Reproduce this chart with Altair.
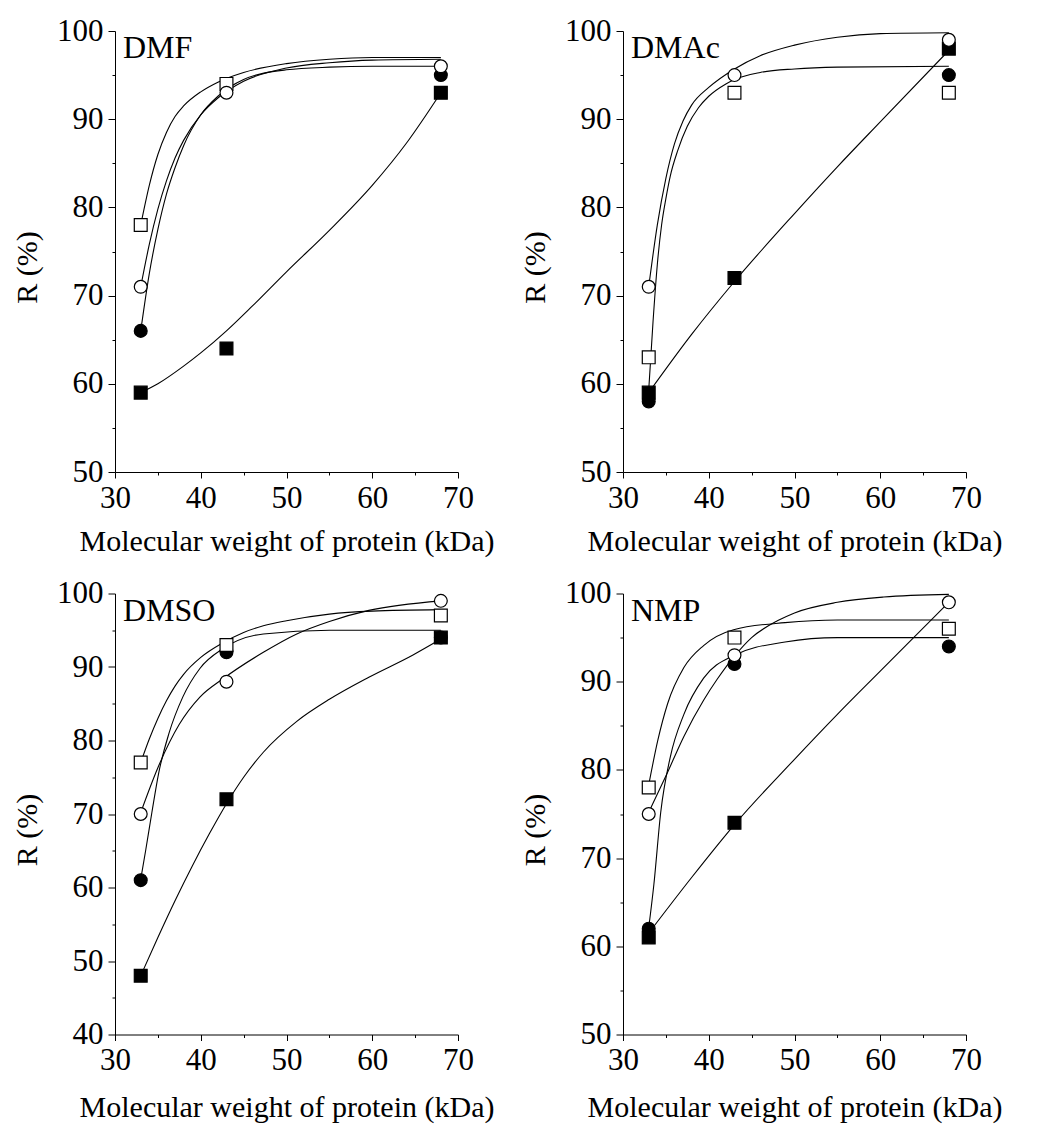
import altair as alt
import pandas as pd

FONT = "Liberation Serif"

# ---- measured points (x = molecular weight of protein, kDa) ----
x_pts = [33, 43, 68]
series_names = ["filled square", "filled circle", "open square", "open circle"]

dmf_fsq = [59, 64, 93]
dmf_fci = [66, None, 95]
dmf_osq = [78, 94, None]
dmf_oci = [71, 93, 96]

dmac_fsq = [59, 72, 98]
dmac_fci = [58, None, 95]
dmac_osq = [63, 93, 93]
dmac_oci = [71, 95, 99]

dmso_fsq = [48, 72, 94]
dmso_fci = [61, 92, 94]
dmso_osq = [77, 93, 97]
dmso_oci = [70, 88, 99]

nmp_fsq = [61, 74, None]
nmp_fci = [62, 92, 94]
nmp_osq = [78, 95, 96]
nmp_oci = [75, 93, 99]

# ---- fitted curves ----
dmf_fsq_cx = [33, 35, 38, 40, 43, 46, 50, 55, 60, 64, 68]
dmf_fsq_cy = [59, 60, 62, 63.5, 66, 68.8, 72.7, 77.4, 82.5, 87.3, 93]
dmf_fci_cx = [33, 34, 35, 36, 37, 38, 40, 42, 45, 50, 55, 60, 68]
dmf_fci_cy = [66, 72.5, 77.5, 81.5, 84.5, 87, 90.5, 92.6, 94.5, 95.6, 95.9, 96, 96]
dmf_osq_cx = [33, 34, 35, 36, 37, 38, 40, 42, 45, 50, 55, 60, 68]
dmf_osq_cy = [78, 82.5, 86, 88.5, 90.3, 91.5, 93.1, 94.2, 95.3, 96.3, 96.8, 97, 97]
dmf_oci_cx = [33, 34, 35, 36, 37, 38, 40, 42, 45, 50, 55, 60, 68]
dmf_oci_cy = [71, 75.8, 79.8, 83, 85.6, 87.6, 90.5, 92.4, 94.3, 95.8, 96.4, 96.7, 96.8]

dmac_fsq_cx = [33, 38, 43, 50, 55, 60, 68]
dmac_fsq_cy = [59, 65.6, 71.6, 79.3, 84.6, 89.7, 97.8]
dmac_fci_cx = [33, 33.5, 34, 34.5, 35, 35.5, 36.4, 37.5, 38.8, 40, 42, 43, 46, 50, 55, 68]
dmac_fci_cy = [59.3, 67, 73.5, 78, 81, 83.5, 86.5, 89.2, 91.3, 92.6, 94, 94.5, 95.3, 95.7, 95.9, 96]
dmac_oci_cx = [33, 34, 35, 36, 37, 38, 40, 43, 46, 50, 55, 60, 68]
dmac_oci_cy = [71, 78, 83.3, 87.2, 89.8, 91.6, 93.6, 95.7, 97.2, 98.4, 99.3, 99.7, 99.8]

dmso_fsq_cx = [33, 35, 37, 39, 41, 43, 45, 47.3, 51.2, 55, 59.6, 64.7, 68]
dmso_fsq_cy = [48, 53.2, 58.2, 62.9, 67.3, 71.4, 75, 78.4, 82.6, 85.6, 88.6, 91.6, 93.8]
dmso_fci_cx = [33, 33.6, 34.3, 35.1, 36.3, 37.9, 39.9, 42.6, 47.3, 55, 68]
dmso_fci_cy = [61.1, 65.2, 70.2, 75.6, 81, 85.9, 89.8, 92.5, 94.5, 95, 95]
dmso_osq_cx = [33, 34, 35, 36, 37, 38, 40, 42.6, 45, 47.3, 50, 55, 60, 68]
dmso_osq_cy = [77, 80.2, 83, 85.4, 87.4, 89, 91.3, 93.3, 94.7, 95.6, 96.3, 97.2, 97.6, 97.8]
dmso_oci_cx = [33, 35, 37.5, 39.9, 42.6, 47.3, 51.2, 55, 59.6, 68]
dmso_oci_cy = [70.2, 76.3, 82.2, 85.9, 88.4, 92, 94.5, 96.2, 97.7, 99]

nmp_fsq_cx = [33, 38, 43, 50, 55, 60, 68]
nmp_fsq_cy = [61.5, 67.8, 73.8, 81.2, 86.3, 91.2, 99]
nmp_fci_cx = [33, 33.6, 34.4, 35.5, 37.1, 39.4, 43, 48.9, 55, 68]
nmp_fci_cy = [62.1, 67, 75.2, 81.4, 86.3, 90.4, 93, 94.5, 95, 95]
nmp_osq_cx = [33, 34.07, 35.2, 37.1, 39.4, 42.9, 48.9, 55, 68]
nmp_osq_cy = [78.3, 83.4, 87.5, 91.6, 94.1, 95.9, 96.7, 97, 97]
nmp_oci_cx = [33, 35, 37.1, 39.4, 41, 43, 45, 48, 50, 55, 60.4, 68]
nmp_oci_cy = [75.2, 79.3, 83.8, 87.9, 90.3, 92.9, 95, 96.9, 97.8, 99, 99.6, 99.9]


def points_df(fsq, fci, osq, oci):
    rows = []
    for name, vals in zip(series_names, [fsq, fci, osq, oci]):
        for xv, yv in zip(x_pts, vals):
            if yv is not None:
                rows.append({"x": xv, "y": yv, "series": name})
    return pd.DataFrame(rows)


def curves_df(curves):
    rows = []
    for name, (xs, ys) in curves.items():
        for xv, yv in zip(xs, ys):
            rows.append({"x": xv, "y": yv, "series": name})
    return pd.DataFrame(rows)


def tick_size(major, minor):
    return {"condition": {"test": "datum.value % 10 === 0", "value": major}, "value": minor}


LABEL_EXPR = "datum.value % 10 === 0 ? datum.label : ''"


def panel(label, ymin, pts, curves, x_title_y):
    x_enc = alt.X(
        "x:Q",
        scale=alt.Scale(domain=[30, 70], nice=False, zero=False),
        axis=alt.Axis(
            values=list(range(30, 71, 5)),
            labelExpr=LABEL_EXPR,
            tickSize=tick_size(6, 3),
            labelPadding=5,
            labelFlush=False,
            title="Molecular weight of protein (kDa)",
            titleX=171.5,
            titleY=x_title_y,
            titleBaseline="alphabetic",
            titleAlign="center",
        ),
    )
    y_enc = alt.Y(
        "y:Q",
        scale=alt.Scale(domain=[ymin, 100], nice=False, zero=False),
        axis=alt.Axis(
            values=list(range(ymin, 101, 5)),
            labelExpr=LABEL_EXPR,
            tickSize=tick_size(7, 3),
            labelPadding=5,
            labelFlush=False,
            title="R (%)",
            titleAngle=270,
            titleX=-88,
            titleY=236,
            titleBaseline="middle",
            titleAlign="center",
        ),
    )
    lines = alt.Chart(curves).mark_line(
        color="black", strokeWidth=1.1, interpolate="monotone"
    ).encode(x=x_enc, y=y_enc, detail="series:N")
    marks = alt.Chart(pts).mark_point(
        filled=True, stroke="black", strokeWidth=1.2, size=165, opacity=1
    ).encode(
        x=x_enc,
        y=y_enc,
        shape=alt.Shape(
            "series:N",
            scale=alt.Scale(domain=series_names, range=["square", "circle", "square", "circle"]),
            legend=None,
        ),
        fill=alt.Fill(
            "series:N",
            scale=alt.Scale(domain=series_names, range=["black", "black", "white", "white"]),
            legend=None,
        ),
    )
    text = alt.Chart(pd.DataFrame({"label": [label]})).mark_text(
        align="left", baseline="alphabetic", font=FONT, fontSize=32, color="black"
    ).encode(x=alt.value(8), y=alt.value(27), text="label:N")
    return alt.layer(lines, marks, text).properties(width=343, height=441)


p_dmf = panel("DMF", 50, points_df(dmf_fsq, dmf_fci, dmf_osq, dmf_oci), curves_df({
    "filled square": (dmf_fsq_cx, dmf_fsq_cy),
    "filled circle": (dmf_fci_cx, dmf_fci_cy),
    "open square": (dmf_osq_cx, dmf_osq_cy),
    "open circle": (dmf_oci_cx, dmf_oci_cy),
}), 78)
p_dmac = panel("DMAc", 50, points_df(dmac_fsq, dmac_fci, dmac_osq, dmac_oci), curves_df({
    "filled square": (dmac_fsq_cx, dmac_fsq_cy),
    "filled circle": (dmac_fci_cx, dmac_fci_cy),
    "open circle": (dmac_oci_cx, dmac_oci_cy),
}), 78)
p_dmso = panel("DMSO", 40, points_df(dmso_fsq, dmso_fci, dmso_osq, dmso_oci), curves_df({
    "filled square": (dmso_fsq_cx, dmso_fsq_cy),
    "filled circle": (dmso_fci_cx, dmso_fci_cy),
    "open square": (dmso_osq_cx, dmso_osq_cy),
    "open circle": (dmso_oci_cx, dmso_oci_cy),
}), 82)
p_nmp = panel("NMP", 50, points_df(nmp_fsq, nmp_fci, nmp_osq, nmp_oci), curves_df({
    "filled square": (nmp_fsq_cx, nmp_fsq_cy),
    "filled circle": (nmp_fci_cx, nmp_fci_cy),
    "open square": (nmp_osq_cx, nmp_osq_cy),
    "open circle": (nmp_oci_cx, nmp_oci_cy),
}), 82)

chart = alt.concat(
    p_dmf, p_dmac, p_dmso, p_nmp,
    columns=2,
    spacing={"row": 121.5, "column": 165},
    bounds="flush",
).properties(
    padding={"left": 12, "top": 15, "right": 5, "bottom": 5},
    background="white",
).configure_view(stroke=None).configure_axis(
    grid=False,
    domainColor="black",
    domainWidth=1,
    tickColor="black",
    tickWidth=1,
    labelColor="black",
    labelFont=FONT,
    labelFontSize=31,
    titleFont=FONT,
    titleFontSize=30,
    titleFontWeight="normal",
    titleColor="black",
)

chart.save("out.html", embed_options={"renderer": "svg", "actions": False})
